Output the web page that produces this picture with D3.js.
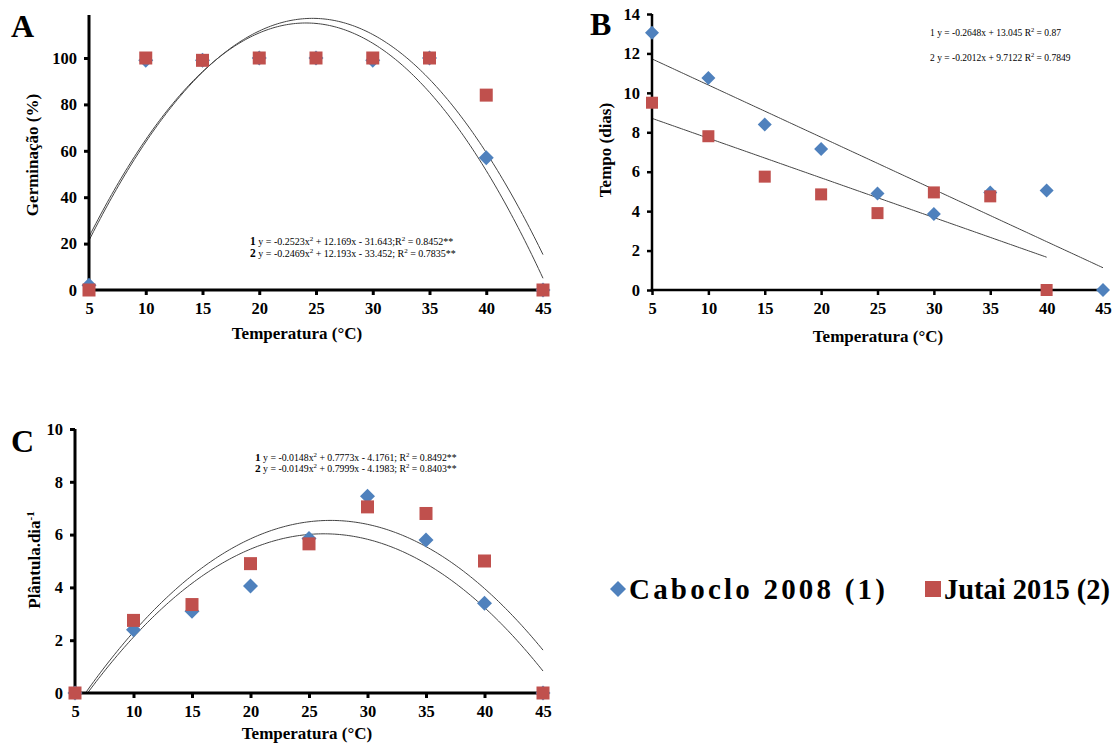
<!DOCTYPE html>
<html><head><meta charset="utf-8">
<script src="https://cdn.jsdelivr.net/npm/d3@7"></script>
<style>
body{margin:0;background:#fff;}
svg{display:block;}
text{font-family:"Liberation Serif","Times New Roman",serif;}
</style></head>
<body>
<svg id="chart" width="1118" height="745"></svg>
<script>
// ---------- DATA ----------
const temps = [5, 10, 15, 20, 25, 30, 35, 40, 45];
const seriesNames = ["Caboclo 2008 (1)", "Jutai 2015 (2)"];

// Panel A: Germinação (%)
const germCaboclo = [2, 99, 99, 100, 100, 99, 100, 57, 0];
const germJutai   = [0, 100, 99, 100, 100, 100, 100, 84, 0];
const germTicks = [0, 20, 40, 60, 80, 100];
const germCoef1 = [-0.2523, 12.169, -31.643];
const germCoef2 = [-0.2469, 12.193, -33.452];

// Panel B: Tempo (dias)
const tempoCaboclo = [13.05, 10.75, 8.4, 7.15, 4.9, 3.85, 4.95, 5.05, 0];
const tempoJutai   = [9.5, 7.8, 5.75, 4.85, 3.9, 4.95, 4.75, 0];
const tempoTicks = [0, 2, 4, 6, 8, 10, 12, 14];
const tempoCoef1 = [-0.2648, 13.045];
const tempoCoef2 = [-0.2012, 9.7122];
const tempoRange1 = [5, 45];
const tempoRange2 = [5, 40];

// Panel C: Plântula.dia-1
const plantCaboclo = [0, 2.4, 3.1, 4.05, 5.85, 7.45, 5.8, 3.4, 0];
const plantJutai   = [0, 2.75, 3.35, 4.9, 5.65, 7.05, 6.8, 5.0, 0];
const plantTicks = [0, 2, 4, 6, 8, 10];
const plantCoef1 = [-0.0148, 0.7773, -4.1761];
const plantCoef2 = [-0.0149, 0.7999, -4.1983];

const xTicks = [5, 10, 15, 20, 25, 30, 35, 40, 45];

const BLUE = "#4F81BD", RED = "#C0504D", LINE = "#444";

// ---------- DRAW ----------
const svg = d3.select("#chart");
const defs = svg.append("defs");

function quad(c){ return x => c[0]*x*x + c[1]*x + c[2]; }
function lin(c){ return x => c[0]*x + c[1]; }

function diamond(g, cx, cy, r){
  g.append("path").attr("d", `M${cx},${cy-r}L${cx+r},${cy}L${cx},${cy+r}L${cx-r},${cy}Z`).attr("fill", BLUE);
}
function square(g, cx, cy, s){
  g.append("rect").attr("x", cx-s/2).attr("y", cy-s/2).attr("width", s).attr("height", s).attr("fill", RED);
}

function panel(cfg){
  const g = svg.append("g");
  const x = d3.scaleLinear().domain([5,45]).range(cfg.xr);
  const y = d3.scaleLinear().domain(cfg.yd).range(cfg.yr);
  const id = "clip" + cfg.letter;
  defs.append("clipPath").attr("id", id).append("rect")
    .attr("x", cfg.xr[0]).attr("y", cfg.yTop).attr("width", cfg.xr[1]-cfg.xr[0]+4).attr("height", cfg.yr[0]-cfg.yTop);

  // trend lines
  const lg = g.append("g").attr("clip-path", `url(#${id})`);
  cfg.fits.forEach(f => {
    const xs = d3.range(f.range[0], f.range[1] + 0.001, 0.2);
    lg.append("path")
      .attr("d", d3.line().x(d => x(d)).y(d => y(f.fn(d)))(xs))
      .attr("fill", "none").attr("stroke", LINE).attr("stroke-width", 1);
  });

  // axes
  const xa = g.append("g").attr("transform", `translate(0,${cfg.yr[0]})`)
    .call(d3.axisBottom(x).tickValues(xTicks).tickSize(5).tickPadding(7).tickFormat(d3.format("d")));
  const ya = g.append("g").attr("transform", `translate(${cfg.xr[0]},0)`)
    .call(d3.axisLeft(y).tickValues(cfg.yTicks).tickSize(5).tickPadding(7).tickFormat(d3.format("d")));
  [xa, ya].forEach(a => {
    a.select(".domain").remove();
    a.selectAll("line").attr("stroke", "#000").attr("stroke-width", cfg.aw);
    a.selectAll("text").attr("font-size", 16.5).attr("font-weight", "bold")
      .attr("font-family", "Liberation Serif, serif").attr("fill", "#000");
  });
  g.append("line").attr("x1", cfg.xr[0]).attr("x2", cfg.xr[0]).attr("y1", cfg.yTop).attr("y2", cfg.yr[0]+cfg.aw/2)
    .attr("stroke", "#000").attr("stroke-width", cfg.aw);
  g.append("line").attr("x1", cfg.xr[0]-cfg.aw/2).attr("x2", cfg.xr[1]+2).attr("y1", cfg.yr[0]).attr("y2", cfg.yr[0])
    .attr("stroke", "#000").attr("stroke-width", cfg.aw);

  // markers
  cfg.s1.forEach((v, i) => diamond(g, x(temps[i]), y(v), cfg.ms/2+1));
  cfg.s2.forEach((v, i) => square(g, x(temps[i]), y(v), cfg.ms));

  // titles
  g.append("text").attr("x", cfg.xt[0]).attr("y", cfg.xt[1]).attr("text-anchor", "middle")
    .attr("font-size", 17).attr("font-weight", "bold").text("Temperatura (°C)");
  const yt = g.append("text").attr("transform", `translate(${cfg.yt[0]},${cfg.yt[1]}) rotate(-90)`)
    .attr("text-anchor", "middle").attr("font-size", 17).attr("font-weight", "bold");
  if (cfg.ySup) {
    yt.append("tspan").text(cfg.yTitle);
    yt.append("tspan").attr("dy", -6).attr("font-size", 11).text(cfg.ySup);
  } else yt.text(cfg.yTitle);

  g.append("text").attr("x", cfg.lt[0]).attr("y", cfg.lt[1]).attr("font-size", 32).attr("font-weight", "bold").text(cfg.letter);

  // equations
  cfg.eqs.forEach((e, i) => {
    const t = g.append("text").attr("x", cfg.eq[0]).attr("y", cfg.eq[1] + i*cfg.eq[2]).attr("font-size", cfg.eq[3]);
    e.forEach(p => {
      const ts = t.append("tspan").text(p.t);
      if (p.b) ts.attr("font-weight", "bold").attr("font-size", cfg.eq[3]+1.5);
      if (p.sup) { ts.attr("dy", -4).attr("font-size", cfg.eq[3]-3); }
      if (p.down) ts.attr("dy", 4);
    });
  });
}

panel({
  letter: "A", lt: [11, 37],
  xr: [89, 543], yd: [0, 100], yr: [290, 58], yTop: 15, aw: 3,
  yTicks: germTicks, s1: germCaboclo, s2: germJutai, ms: 13,
  fits: [{fn: quad(germCoef1), range: [5, 45]}, {fn: quad(germCoef2), range: [5, 45]}],
  xt: [297, 339], yt: [38, 155], yTitle: "Germinação (%)",
  eq: [250, 245, 12, 10],
  eqs: [
    [{t:"1", b:true}, {t:" y = " + germCoef1[0] + "x"}, {t:"2", sup:true}, {t:" + " + germCoef1[1] + "x  - 31.643;R", down:true}, {t:"2", sup:true}, {t:" = 0.8452**", down:true}],
    [{t:"2", b:true}, {t:" y = " + germCoef2[0] + "x"}, {t:"2", sup:true}, {t:" + " + germCoef2[1] + "x  - 33.452; R", down:true}, {t:"2", sup:true}, {t:" = 0.7835**", down:true}]
  ]
});

panel({
  letter: "B", lt: [590, 35],
  xr: [652, 1103], yd: [0, 14], yr: [290, 14], yTop: 14, aw: 2.5,
  yTicks: tempoTicks, s1: tempoCaboclo, s2: tempoJutai, ms: 12,
  fits: [{fn: lin(tempoCoef1), range: tempoRange1}, {fn: lin(tempoCoef2), range: tempoRange2}],
  xt: [878, 342], yt: [611, 150], yTitle: "Tempo (dias)",
  eq: [930, 36, 25, 9.5],
  eqs: [
    [{t:"1 y = " + tempoCoef1[0] + "x  + " + tempoCoef1[1] + "  R"}, {t:"2", sup:true}, {t:" = 0.87", down:true}],
    [{t:"2 y = " + tempoCoef2[0] + "x  + " + tempoCoef2[1] + "  R"}, {t:"2", sup:true}, {t:" = 0.7849", down:true}]
  ]
});

panel({
  letter: "C", lt: [11, 452],
  xr: [75, 543], yd: [0, 10], yr: [693, 429], yTop: 429, aw: 3,
  yTicks: plantTicks, s1: plantCaboclo, s2: plantJutai, ms: 13,
  fits: [{fn: quad(plantCoef1), range: [5, 45]}, {fn: quad(plantCoef2), range: [5, 45]}],
  xt: [307, 739], yt: [40, 560], yTitle: "Plântula.dia", ySup: "-1",
  eq: [255, 461, 11, 9.8],
  eqs: [
    [{t:"1", b:true}, {t:" y = " + plantCoef1[0] + "x"}, {t:"2", sup:true}, {t:"  + " + plantCoef1[1] + "x  - 4.1761; R", down:true}, {t:"2", sup:true}, {t:" = 0.8492**", down:true}],
    [{t:"2", b:true}, {t:" y = " + plantCoef2[0] + "x"}, {t:"2", sup:true}, {t:"  + " + plantCoef2[1] + "x  - 4.1983; R", down:true}, {t:"2", sup:true}, {t:" = 0.8403**", down:true}]
  ]
});

// legend
const leg = svg.append("g");
diamond(leg, 618, 589, 8);
leg.append("text").attr("x", 629).attr("y", 599).attr("font-size", 29).attr("font-weight", "bold")
  .attr("textLength", 256).attr("lengthAdjust", "spacing").text(seriesNames[0]);
square(leg, 933, 589, 16);
leg.append("text").attr("x", 944).attr("y", 599).attr("font-size", 29).attr("font-weight", "bold")
  .attr("textLength", 166).attr("lengthAdjust", "spacingAndGlyphs").text(seriesNames[1]);
</script>
</body></html>
